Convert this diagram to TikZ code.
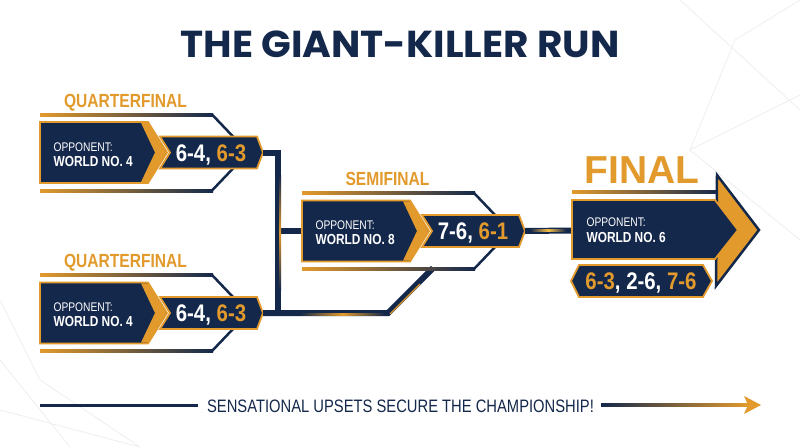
\documentclass[tikz,border=0pt]{standalone}
\usepackage{fontspec}
\setmainfont{Liberation Sans}
\newfontfamily\condfont[FakeStretch=0.82]{Liberation Sans}
\newfontfamily\scorefont[FakeStretch=0.85]{Liberation Sans}
\newfontfamily\titlefont[FakeStretch=1.04]{Poppins}
\definecolor{navy}{HTML}{14284B}
\definecolor{gold}{HTML}{E29A2C}
\definecolor{goldlt}{HTML}{F6BC45}
\definecolor{faint}{HTML}{EEEFF2}

\begin{document}
\begin{tikzpicture}[x=1pt, y=-1pt,
  navybox/.style={fill=navy, draw=gold, line width=1.8, line join=miter},
  frameline/.style={navy, line width=2.5},
  link/.style={navy, line width=6, line join=miter},
  stagelabel/.style={anchor=base, text=gold, font=\condfont\bfseries\fontsize{19}{19}\selectfont},
  opptext/.style={anchor=base west, text=white, font=\condfont\fontsize{12.5}{12.5}\selectfont},
  ranktext/.style={anchor=base west, text=white, font=\condfont\bfseries\fontsize{14.5}{14.5}\selectfont},
  scoretext/.style={anchor=base, text=white, font=\scorefont\bfseries\fontsize{24}{24}\selectfont}]

% Canvas
\fill[white] (0,0) rectangle (800,447);
\useasboundingbox (0,0) rectangle (800,447);

% Faint background facets
\draw[faint, line width=0.8] (680,0) -- (800,110) (735,40) -- (800,0) (735,40) -- (690,150) -- (800,95)
  (690,150) -- (800,240) (0,360) -- (70,447) (0,410) -- (140,447) (40,380) -- (0,300) (40,380) -- (140,447);

% One match: name, x, y, stage, rank, score
\def\matchblock#1#2#3#4#5#6{%
\begin{scope}[shift={(#2,#3)}]
  \shade[left color=gold, right color=navy] (0,-39.5) rectangle (173,-36.5);
  \draw[frameline] (172,-38) -- (193,-16);
  \shade[left color=gold, right color=navy] (0,36.5) rectangle (173,39.5);
  \draw[frameline] (172,38) -- (193,16);
  \draw[navybox] (120,-16) -- (217,-16) -- (223,0) -- (217,16) -- (120,16) -- (130,0) -- cycle;
  \draw[navybox] (0,-30.5) -- (108,-30.5) -- (127,0) -- (108,30.5) -- (0,30.5) -- cycle;
  \fill[gold] (101,-29.6) -- (109,-29.6) -- (126,0) -- (109,29.6) -- (101,29.6) -- (115,0) -- cycle;
  \coordinate (#1in) at (0,0);
  \coordinate (#1out) at (223,0);
  \node[stagelabel] (#1stage) at (85.5,-45.5) {#4};
  \node[opptext] (#1opp) at (10,-1.5) {OPPONENT:};
  \node[ranktext] (#1rank) at (10,13.5) {#5};
  \node[scoretext] (#1score) at (171,8.5) {#6};
\end{scope}}

% Title
\node[anchor=base, text=navy, font=\titlefont\bfseries\fontsize{37.5}{37.5}\selectfont] (title) at (400,57.5) {THE GIANT-KILLER RUN};

% Quarterfinals and bracket
\coordinate (spine) at (278,231);
\matchblock{qfA}{40}{152.5}{QUARTERFINAL}{WORLD NO. 4}{6-4, \textcolor{gold}{6-3}}
\matchblock{qfB}{40}{313}{QUARTERFINAL}{WORLD NO. 4}{6-4, \textcolor{gold}{6-3}}
\draw[link] (qfAout) -| (spine) |- (qfBout);
\draw[link] (spine) -- (302,231);
\draw[link] (qfBout) -- ++(125,0) coordinate (bend) -- ++(45,-45) coordinate (semijoin);
\shade[top color=navy, bottom color=navy, middle color=gold] (279.5,175) rectangle (281,290);
\shade[left color=navy, right color=navy, middle color=gold] (300,313.5) rectangle (385,315);
\draw[gold, line width=1.2] (bend) ++(2,1) -- ++(30,-30);

% Semifinal
\matchblock{semi}{302}{231}{SEMIFINAL}{WORLD NO. 8}{7-6, \textcolor{gold}{6-1}}
\coordinate (finalin) at (572,230.5);
\draw[link] (semiout) -- (finalin);
\shade[left color=navy, right color=navy, middle color=goldlt] (530,229.8) rectangle (566,231.2);

% Final
\node[anchor=base west, text=gold, font=\bfseries\fontsize{39}{39}\selectfont] (finallabel) at (581,183) {FINAL};
\shade[left color=gold, right color=navy] (572,190.5) rectangle (718,193.5);
\filldraw[fill=gold, draw=navy, line width=2.5, line join=miter] (717,175) -- (759,230) -- (716,286) -- cycle;
\draw[navybox] (572,200) -- (715,200) -- (738,230) -- (715,259) -- (572,259) -- cycle;
\node[opptext] (finalopp) at (583,226) {OPPONENT:};
\node[ranktext] (finalrank) at (583,242) {WORLD NO. 6};
\draw[navybox] (571,281) -- (579,265) -- (703,265) -- (712,281) -- (703,297) -- (579,297) -- cycle;
\node[scoretext] (finalscore) at (641,289) {\textcolor{gold}{6-3}, 2-6, \textcolor{gold}{7-6}};

% Bottom banner
\node[anchor=base, text=navy, font=\condfont\fontsize{18}{18}\selectfont] (motto) at (400.5,412) {SENSATIONAL UPSETS SECURE THE CHAMPIONSHIP!};
\coordinate (mottostart) at (40,405);
\coordinate (mottoend) at (761,405);
\draw[navy, line width=3] (mottostart) -- ([xshift=-6pt]motto.west |- mottostart);
\shade[left color=navy, right color=gold] (601,403.5) rectangle (748,406.5);
\fill[gold] (mottoend) -- ++(-17,-9) -- ++(4,9) -- ++(-4,9) -- cycle;
\end{tikzpicture}
\end{document}
